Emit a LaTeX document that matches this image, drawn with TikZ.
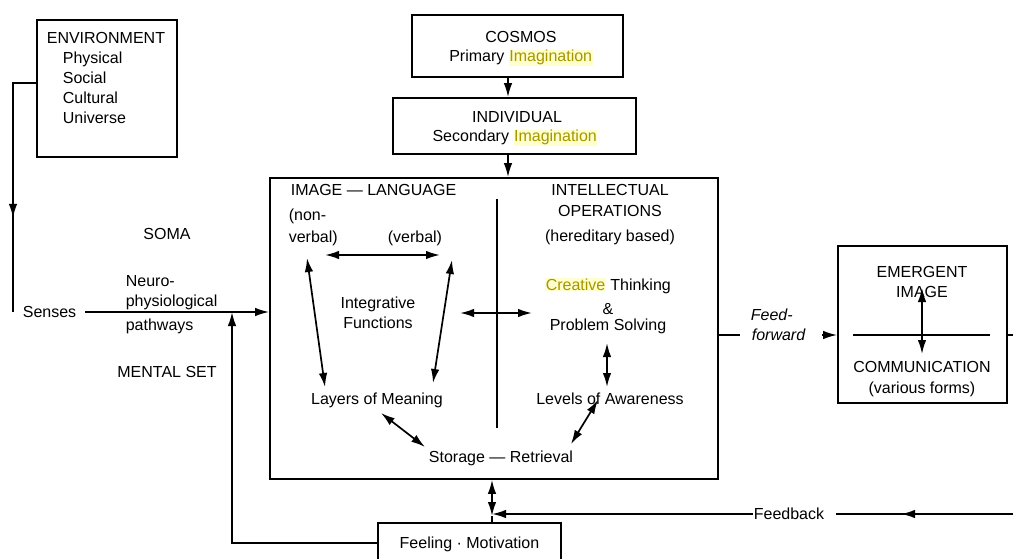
\documentclass[tikz,border=0pt]{standalone}
\usepackage{fontspec}
\setmainfont{Liberation Sans}
\usetikzlibrary{arrows.meta,decorations.markings,calc}
\definecolor{hlfg}{RGB}{165,150,0}
\definecolor{hlbg}{RGB}{255,255,205}
\newcommand\hlw[1]{{\setlength{\fboxsep}{0.6pt}\colorbox{hlbg}{\color{hlfg}#1}}}
\begin{document}
\begin{tikzpicture}[x=1pt,y=-1pt, line width=1.7pt,
  >={Latex[length=14pt,width=8.5pt]},
  box/.style={draw, inner sep=0pt},
  lbl/.style={inner sep=0pt, font=\fontsize{16}{19}\selectfont},
  ilbl/.style={inner sep=0pt, font=\fontsize{16}{19}\selectfont\itshape},
  midarr/.style={postaction={decorate}, decoration={markings, mark=at position #1 with {\arrow{Latex[length=14pt,width=8.5pt]}}}}]
\useasboundingbox (0,0) rectangle (1013,559);
\fill[white] (0,0) rectangle (1013,559);

% boxes
\node[box, minimum width=140pt, minimum height=137pt] (env) at (107,88.5) {};
\node[box, minimum width=211pt, minimum height=62pt] (cosmos) at (517.5,46) {};
\node[box, minimum width=243pt, minimum height=56pt] (indiv) at (514.5,126) {};
\node[box, minimum width=448pt, minimum height=301pt] (big) at (494,328.5) {};
\node[box, minimum width=169pt, minimum height=157pt] (emerg) at (922.5,324.5) {};
\node[box, minimum width=183pt, minimum height=40pt] (feel) at (469.5,543) {};

% environment texts
\node[lbl, anchor=base west] (envT) at (46,44) {ENVIRONMENT};
\node[lbl, anchor=base west] (phys) at (62,64) {Physical};
\node[lbl, anchor=base west] (soc) at (62,84) {Social};
\node[lbl, anchor=base west] (cult) at (62,104) {Cultural};
\node[lbl, anchor=base west] (univ) at (62,124) {Universe};

% top boxes texts
\node[lbl, anchor=base] (cosT) at (521,43) {COSMOS};
\node[lbl, anchor=base] (prim) at (521,62) {Primary \hlw{Imagination}};
\node[lbl, anchor=base] (indT) at (517,123) {INDIVIDUAL};
\node[lbl, anchor=base] (sec) at (515,142) {Secondary \hlw{Imagination}};

% left side texts
\node[lbl, anchor=base] (soma) at (167,240) {SOMA};
\node[lbl, anchor=base west] (neu1) at (125,286) {Neuro-};
\node[lbl, anchor=base west] (neu2) at (125,306) {physiological};
\node[lbl, anchor=base west] (neu3) at (125,330) {pathways};
\node[lbl, anchor=base west] (senses) at (22,317) {Senses};
\node[lbl, anchor=base] (mset) at (167,377) {MENTAL SET};

% big box texts
\node[lbl, anchor=base west] (il) at (290,196) {IMAGE — LANGUAGE};
\node[lbl, anchor=base west] (non1) at (288,221) {(non-};
\node[lbl, anchor=base west] (non2) at (288,242) {verbal)};
\node[lbl, anchor=base west] (verb) at (387,242) {(verbal)};
\node[lbl, anchor=base] (integ1) at (378,308) {Integrative};
\node[lbl, anchor=base] (integ2) at (378,328) {Functions};
\node[lbl, anchor=base] (layers) at (377,404) {Layers of Meaning};
\node[lbl, anchor=base] (store) at (501,462) {Storage — Retrieval};
\node[lbl, anchor=base] (io1) at (610,196) {INTELLECTUAL};
\node[lbl, anchor=base] (io2) at (610,217) {OPERATIONS};
\node[lbl, anchor=base] (io3) at (610,241) {(hereditary based)};
\node[lbl, anchor=base] (ct) at (608,290) {\hlw{Creative} Thinking};
\node[lbl, anchor=base] (amp) at (608,314) {\&};
\node[lbl, anchor=base] (ps) at (608,330) {Problem Solving};
\node[lbl, anchor=base] (lev) at (610,404) {Levels of Awareness};

% right texts
\node[ilbl, anchor=base west] (ff1) at (750,320) {Feed-};
\node[ilbl, anchor=base west] (ff2) at (751,340) {forward};
\node[lbl, anchor=base] (em1) at (922,277) {EMERGENT};
\node[lbl, anchor=base] (em2) at (922,297) {IMAGE};
\node[lbl, anchor=base] (com1) at (922,372) {COMMUNICATION};
\node[lbl, anchor=base] (com2) at (922,393) {(various forms)};

% bottom texts
\node[lbl, anchor=base] (feelT) at (469.5,548) {Feeling · Motivation};
\node[lbl, anchor=base] (fb) at (789,519) {Feedback};

% coordinates
\coordinate (ax) at (508,0);
\coordinate (e83) at (0,83);
\coordinate (envc) at (13,312);
\coordinate (sstart) at (85,312);
\coordinate (mj) at (232,312);
\coordinate (vx) at (492,516);
\coordinate (fbr) at (1013,514);
\coordinate (fbre) at (836,514);
\coordinate (ffy) at (0,335);
\coordinate (ffa) at (740,335);
\coordinate (ffb) at (822,335);
\coordinate (el) at (853,335);
\coordinate (er) at (990,335);
\coordinate (eu) at (922,288);
\coordinate (ed) at (922,354);
\coordinate (rr) at (1013,335);
\coordinate (d1) at (497,199);
\coordinate (d2) at (497,428);
\coordinate (h1) at (325,255);
\coordinate (h2) at (440,255);
\coordinate (lt) at (307,258);
\coordinate (lb) at (325,387);
\coordinate (rt) at (452,260);
\coordinate (rb) at (433,383);
\coordinate (c1) at (460,313);
\coordinate (c2) at (532,313);
\coordinate (pv1) at (607,343);
\coordinate (pv2) at (607,387);
\coordinate (sl1) at (381,413);
\coordinate (sl2) at (425,447);
\coordinate (sr1) at (598,400);
\coordinate (sr2) at (571,444);

% connectors
\draw[->] (cosmos.south -| ax) -- (indiv.north -| ax);
\draw[->] (indiv.south -| ax) -- (big.north -| ax);
\draw[midarr=158pt] (env.west |- e83) -| (envc);
\draw[->] (sstart) -- (big.west |- sstart);
\draw[->] (feel.west) -| (mj);
\draw[<->] (vx) -- (vx |- big.south);
\draw (feel.north -| vx) -- (vx);
\draw[midarr=112pt] (fbr) -- (fbre);
\draw[->] (fb.west |- fbr) -- (vx |- fbr);
\draw (big.east |- ffy) -- (ffa);
\draw[->] (ffb) -- (emerg.west |- ffb);
\draw (el) -- (er);
\draw[<->] (eu) -- (ed);
\draw (emerg.east |- ffy) -- (rr);
\draw (d1) -- (d2);
\draw[<->] (h1) -- (h2);
\draw[<->] (lt) -- (lb);
\draw[<->] (rt) -- (rb);
\draw[<->] (c1) -- (c2);
\draw[<->] (pv1) -- (pv2);
\draw[<->] (sl1) -- (sl2);
\draw[<->] (sr1) -- (sr2);
\end{tikzpicture}
\end{document}
